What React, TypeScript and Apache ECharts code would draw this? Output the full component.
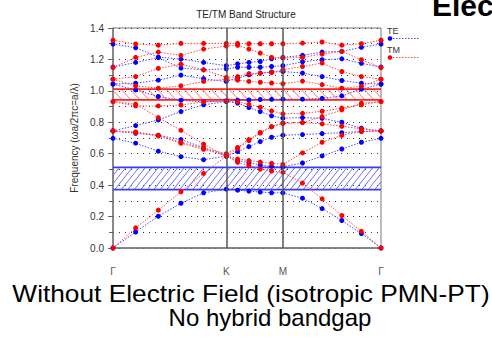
import React, { useEffect, useRef } from "react";
import * as echarts from "echarts";

// k-path: Γ -> K (5 steps), K -> M (5 steps), M -> Γ (5 steps)
const kPath = [0, 0.2, 0.4, 0.6, 0.8, 1.0, 1.1, 1.2, 1.3, 1.4, 1.5, 1.673, 1.846, 2.02, 2.193, 2.366];
const symPoints = [0, 1.0, 1.5, 2.366];
const symLabels = ["Γ", "K", "M", "Γ"];

// TE bands (blue)
const te1 = [0, 0.102, 0.202, 0.285, 0.351, 0.375, 0.368, 0.362, 0.356, 0.351, 0.351, 0.317, 0.251, 0.175, 0.092, 0];
const te2 = [0.698, 0.667, 0.616, 0.581, 0.562, 0.585, 0.555, 0.543, 0.528, 0.519, 0.517, 0.541, 0.586, 0.63, 0.673, 0.698];
const te3 = [0.745, 0.73, 0.717, 0.69, 0.638, 0.585, 0.613, 0.645, 0.677, 0.705, 0.718, 0.722, 0.728, 0.734, 0.741, 0.745];
const te4 = [0.745, 0.779, 0.815, 0.868, 0.911, 0.932, 0.922, 0.894, 0.868, 0.841, 0.826, 0.83, 0.825, 0.8, 0.762, 0.745];
const te5 = [1.043, 1.006, 0.964, 0.94, 0.93, 0.937, 0.94, 0.942, 0.945, 0.946, 0.947, 0.947, 0.952, 0.968, 1.011, 1.043];
const te6 = [1.043, 1.049, 1.068, 1.1, 1.077, 1.06, 1.081, 1.102, 1.113, 1.12, 1.123, 1.113, 1.091, 1.066, 1.049, 1.043];
const te7 = [1.151, 1.181, 1.212, 1.145, 1.134, 1.14, 1.15, 1.15, 1.15, 1.155, 1.16, 1.185, 1.198, 1.204, 1.175, 1.151];
const te8 = [1.298, 1.274, 1.215, 1.202, 1.181, 1.16, 1.172, 1.181, 1.187, 1.204, 1.213, 1.226, 1.247, 1.251, 1.277, 1.298];

// TM bands (red)
const tm1 = [0, 0.128, 0.241, 0.358, 0.475, 0.585, 0.545, 0.525, 0.502, 0.49, 0.481, 0.413, 0.313, 0.207, 0.106, 0];
const tm2 = [0.745, 0.734, 0.713, 0.666, 0.628, 0.59, 0.566, 0.556, 0.547, 0.539, 0.532, 0.605, 0.673, 0.717, 0.741, 0.745];
const tm3 = [0.745, 0.738, 0.718, 0.672, 0.635, 0.6, 0.64, 0.69, 0.735, 0.772, 0.794, 0.798, 0.79, 0.775, 0.758, 0.745];
const tm4 = [0.932, 0.915, 0.83, 0.749, 0.66, 0.585, 0.632, 0.683, 0.732, 0.771, 0.794, 0.798, 0.836, 0.879, 0.921, 0.932];
const tm5 = [0.932, 0.904, 0.904, 0.91, 0.93, 0.935, 0.93, 0.914, 0.896, 0.873, 0.854, 0.857, 0.87, 0.89, 0.911, 0.932];
const tm6 = [1.074, 1.031, 1.017, 1.032, 1.06, 1.074, 1.068, 1.06, 1.055, 1.05, 1.045, 1.062, 1.04, 1.017, 1.028, 1.074];
const tm7 = [1.074, 1.091, 1.143, 1.17, 1.134, 1.085, 1.091, 1.11, 1.113, 1.117, 1.134, 1.155, 1.177, 1.123, 1.091, 1.074];
const tm8 = [1.148, 1.213, 1.247, 1.226, 1.266, 1.285, 1.29, 1.266, 1.24, 1.213, 1.209, 1.213, 1.234, 1.251, 1.198, 1.148];
const tm9 = [1.322, 1.298, 1.291, 1.302, 1.302, 1.302, 1.302, 1.3, 1.3, 1.3, 1.3, 1.304, 1.311, 1.291, 1.3, 1.322];

const teBands = [te1, te2, te3, te4, te5, te6, te7, te8];
const tmBands = [tm1, tm2, tm3, tm4, tm5, tm6, tm7, tm8, tm9];

// Band gaps (hatched)
const teGap = [0.372, 0.513];
const tmGap = [0.943, 1.011];

const yMin = 0;
const yMax = 1.4;
const yStep = 0.2;

const FONT = "'Liberation Sans', Arial, Helvetica, sans-serif";
const BLUE = "#0000ff";
const RED = "#ff0000";

const kMin = kPath[0];
const kMax = kPath[kPath.length - 1];

function hatchSeries(gap: number[], edge: string, hatch: string, dir: number, spacing: number, slope: number) {
  return {
    type: "custom",
    silent: true,
    z: 1,
    data: [[gap[0], gap[1]]],
    renderItem: (_params: any, api: any) => {
      const lo = api.value(0);
      const hi = api.value(1);
      const p0 = api.coord([kMin, lo]);
      const p1 = api.coord([kMax, hi]);
      const left = p0[0];
      const right = p1[0];
      const bottom = p0[1];
      const top = p1[1];
      const h = bottom - top;
      const d = h * slope;
      const children: any[] = [];
      for (let x0 = left - d; x0 < right; x0 += spacing) {
        let t0 = 0;
        let t1 = 1;
        if (x0 < left) t0 = (left - x0) / d;
        if (x0 + d > right) t1 = (right - x0) / d;
        if (t1 <= t0) continue;
        const ya = dir > 0 ? bottom : top;
        const yb = dir > 0 ? top : bottom;
        children.push({
          type: "line",
          shape: { x1: x0 + t0 * d, y1: ya + t0 * (yb - ya), x2: x0 + t1 * d, y2: ya + t1 * (yb - ya) },
          style: { stroke: hatch, lineWidth: 1 },
        });
      }
      children.push({ type: "line", shape: { x1: left, y1: top, x2: right, y2: top }, style: { stroke: edge, lineWidth: 1.8 } });
      children.push({ type: "line", shape: { x1: left, y1: bottom, x2: right, y2: bottom }, style: { stroke: edge, lineWidth: 1.8 } });
      return { type: "group", children };
    },
  };
}

function bandSeries(name: string, band: number[], color: string, lineColor: string, withMarks: boolean) {
  const s: any = {
    type: "line",
    name,
    data: band.map((v, j) => [kPath[j], v]),
    symbol: "circle",
    symbolSize: 5,
    showSymbol: true,
    itemStyle: { color },
    lineStyle: { color: lineColor, width: 1, type: [1.5, 1.5] },
    z: 3,
    silent: true,
  };
  if (withMarks) {
    s.markLine = {
      silent: true,
      symbol: ["none", "none"],
      label: { show: false },
      lineStyle: { color: "#555", width: 1.5, type: "solid" },
      data: [{ xAxis: symPoints[1] }, { xAxis: symPoints[2] }],
    };
  }
  return s;
}

export default function App() {
  const ref = useRef<HTMLDivElement>(null);
  useEffect(() => {
    const chart = echarts.init(ref.current!, null, { renderer: "svg" });
    const series: any[] = [
      hatchSeries(teGap, "#3a3aff", "#6e6eff", 1, 6.5, 0.8),
      hatchSeries(tmGap, "#ff2020", "#ff7070", -1, 9, 0.95),
      ...teBands.map((b, i) => bandSeries("TE", b, BLUE, "#4a4aff", i === 0)),
      ...tmBands.map((b) => bandSeries("TM", b, RED, "#ff4a4a", false)),
    ];
    const option: any = {
      animation: false,
      backgroundColor: "#ffffff",
      textStyle: { fontFamily: FONT },
      grid: {
        left: 113,
        right: 111,
        top: 28,
        bottom: 93,
        show: true,
        borderColor: "#777",
        borderWidth: 1,
        backgroundColor: "transparent",
      },
      xAxis: {
        type: "value",
        min: kMin,
        max: kMax,
        axisLine: { show: true, lineStyle: { color: "#777", width: 1.5 } },
        axisTick: { show: false },
        splitLine: { show: false },
        axisLabel: {
          customValues: symPoints,
          showMinLabel: true,
          showMaxLabel: true,
          margin: 18,
          fontSize: 10,
          color: "#555",
          fontFamily: FONT,
          formatter: (v: number) => {
            const i = symPoints.findIndex((p) => Math.abs(p - v) < 1e-6);
            return i >= 0 ? symLabels[i] : "";
          },
        },
      },
      yAxis: {
        type: "value",
        min: yMin,
        max: yMax,
        interval: yStep,
        name: "Frequency (ωa/2πc=a/λ)",
        nameLocation: "middle",
        nameGap: 31,
        nameRotate: 90,
        nameTextStyle: { fontSize: 10, color: "#333", fontFamily: FONT },
        axisLine: { show: true, lineStyle: { color: "#777", width: 1.5 } },
        axisTick: { show: true, inside: false, length: 5, lineStyle: { color: "#666" } },
        minorTick: { show: true, splitNumber: 2, length: 4, lineStyle: { color: "#666" } },
        axisLabel: {
          fontSize: 10,
          color: "#333",
          margin: 9,
          fontFamily: FONT,
          formatter: (v: number) => v.toFixed(1),
        },
        splitLine: { show: true, lineStyle: { color: "#333", width: 1, type: [1, 5] } },
        minorSplitLine: { show: true, lineStyle: { color: "#333", width: 1, type: [1, 5] } },
      },
      graphic: [
        {
          type: "text",
          x: 246,
          y: 14,
          style: { text: "TE/TM Band Structure", font: `10px ${FONT}`, fill: "#222", textAlign: "center", textVerticalAlign: "middle" },
        },
        {
          type: "text",
          x: 432,
          y: 5,
          style: { text: "Electric Field", font: `bold 30px ${FONT}`, fill: "#000", textAlign: "left", textVerticalAlign: "middle" },
        },
        {
          type: "text",
          x: 251,
          y: 293,
          scaleX: 1.095,
          style: { text: "Without Electric Field (isotropic PMN-PT)", font: `24px ${FONT}`, fill: "#000", textAlign: "center", textVerticalAlign: "middle" },
        },
        {
          type: "text",
          x: 270,
          y: 317,
          style: { text: "No hybrid bandgap", font: `24px ${FONT}`, fill: "#000", textAlign: "center", textVerticalAlign: "middle" },
        },
        // legend
        { type: "text", x: 387, y: 30.5, style: { text: "TE", font: `9px ${FONT}`, fill: "#333", textAlign: "left", textVerticalAlign: "middle" } },
        { type: "line", shape: { x1: 390, y1: 38.5, x2: 420, y2: 38.5 }, style: { stroke: "#4a4aff", lineWidth: 1, lineDash: [1.5, 1.5] } },
        { type: "circle", shape: { cx: 390, cy: 38.5, r: 2.3 }, style: { fill: BLUE } },
        { type: "text", x: 387, y: 49.5, style: { text: "TM", font: `9px ${FONT}`, fill: "#333", textAlign: "left", textVerticalAlign: "middle" } },
        { type: "line", shape: { x1: 390, y1: 57.5, x2: 420, y2: 57.5 }, style: { stroke: "#ff4a4a", lineWidth: 1, lineDash: [1.5, 1.5] } },
        { type: "circle", shape: { cx: 390, cy: 57.5, r: 2.3 }, style: { fill: RED } },
      ],
      series,
    };
    chart.setOption(option);
    return () => chart.dispose();
  }, []);
  return (
    <div
      ref={ref}
      style={{ position: "fixed", left: 0, top: 0, width: 492, height: 341, background: "#fff" }}
    />
  );
}
